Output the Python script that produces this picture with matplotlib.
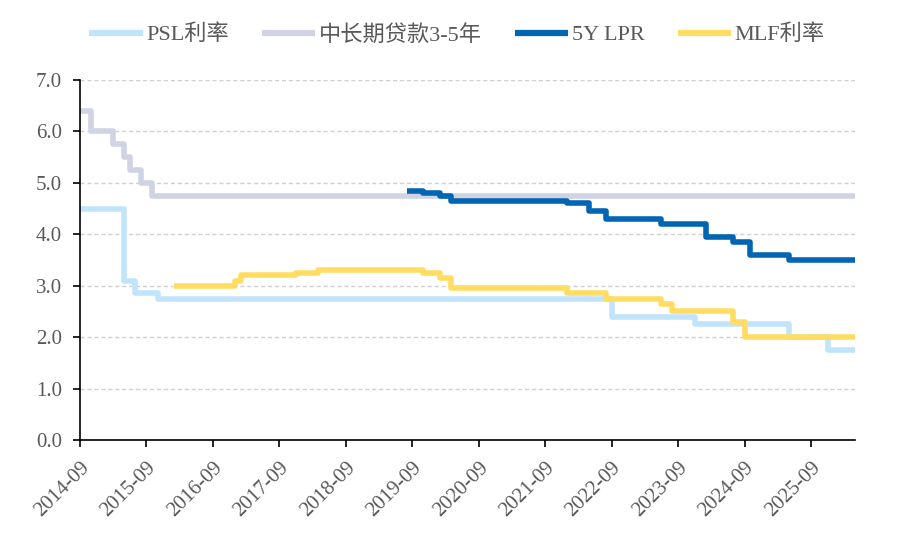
import matplotlib
matplotlib.use("Agg")
import matplotlib.pyplot as plt
import matplotlib.dates as mdates
import pandas as pd

plt.rcParams['font.family'] = ['Liberation Serif', 'Noto Sans CJK SC', 'DejaVu Sans']

END = '2026-05-01'
START = '2014-09-01'

psl_dates = ['2014-09', '2015-05', '2015-07', '2015-11', '2022-09', '2023-12', '2025-05', '2025-12']
psl_vals = [4.50, 3.10, 2.85, 2.75, 2.40, 2.25, 2.00, 1.75]

loan_dates = ['2014-09', '2014-11', '2015-03', '2015-05', '2015-06', '2015-08', '2015-10']
loan_vals = [6.40, 6.00, 5.75, 5.50, 5.25, 5.00, 4.75]

lpr_dates = ['2019-08', '2019-11', '2020-02', '2020-04', '2022-01', '2022-05', '2022-08',
             '2023-06', '2024-02', '2024-07', '2024-10', '2025-05']
lpr_vals = [4.85, 4.80, 4.75, 4.65, 4.60, 4.45, 4.30, 4.20, 3.95, 3.85, 3.60, 3.50]

mlf_dates = ['2016-02', '2017-01', '2017-02', '2017-12', '2018-04', '2019-11', '2020-02',
             '2020-04', '2022-01', '2022-08', '2023-06', '2023-08', '2024-07', '2024-09']
mlf_vals = [3.00, 3.10, 3.20, 3.25, 3.30, 3.25, 3.15, 2.95, 2.85, 2.75, 2.65, 2.50, 2.30, 2.00]

series = [
    ('PSL利率', psl_dates, psl_vals, '#BFE4FB'),
    ('中长期贷款3-5年', loan_dates, loan_vals, '#CFD3E3'),
    ('5Y LPR', lpr_dates, lpr_vals, '#0066B3'),
    ('MLF利率', mlf_dates, mlf_vals, '#FFDD63'),
]

tick_labels = ['2014-09', '2015-09', '2016-09', '2017-09', '2018-09', '2019-09',
               '2020-09', '2021-09', '2022-09', '2023-09', '2024-09', '2025-09']

fig = plt.figure(figsize=(8.99, 5.40), dpi=100)
ax = fig.add_axes([80/899, 1-440/540, (855-80)/899, 360/540])

for name, d, v, c in series:
    x = list(pd.to_datetime(d)) + [pd.Timestamp(END)]
    y = list(v) + [v[-1]]
    ax.step(x, y, where='post', color=c, lw=4, label=name, solid_capstyle='butt')

ax.set_ylim(0, 7)
ax.set_yticks(range(0, 8))
ax.set_yticklabels([f'{i:.1f}' for i in range(0, 8)])
ax.set_xlim(pd.Timestamp(START), pd.Timestamp(END))
ax.set_xticks(pd.to_datetime(tick_labels))
ax.set_xticklabels(tick_labels, rotation=45, ha='right', rotation_mode='anchor')

ax.grid(axis='y', linestyle=(0, (3, 2)), color='#D0D0D0', lw=1)
ax.set_axisbelow(True)
for s in ['top', 'right']:
    ax.spines[s].set_visible(False)
for s in ['left', 'bottom']:
    ax.spines[s].set_color('black')
    ax.spines[s].set_linewidth(1.2)
ax.tick_params(axis='both', direction='out', length=5, width=1.2, colors='black',
               labelcolor='#595959', labelsize=15)
ax.tick_params(axis='x', pad=8)
ax.tick_params(axis='y', pad=8)

leg = fig.legend(loc='center', bbox_to_anchor=(457/899, 1-35/540), ncol=4, frameon=False,
                 fontsize=16, handlelength=2.4, handletextpad=0.15, columnspacing=1.5,
                 labelcolor='#595959')
for h in leg.get_lines():
    h.set_linewidth(4.5)

fig.savefig('out.png', dpi=100)
